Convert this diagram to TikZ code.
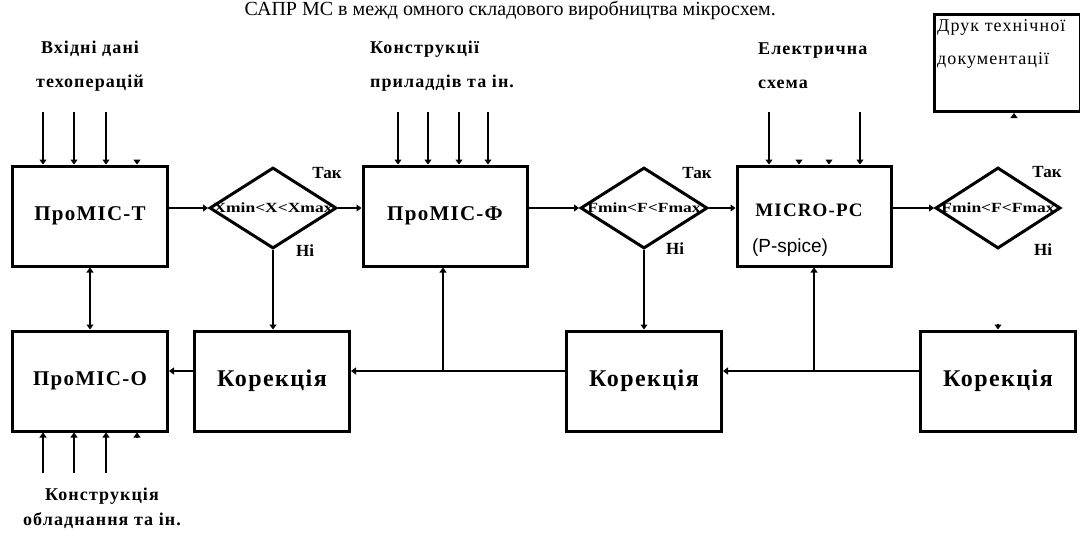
\documentclass[tikz,border=0pt]{standalone}
\usepackage{fontspec}
\setmainfont{Liberation Serif}
\newfontfamily\arialfont{Liberation Sans}
\newfontfamily\wideserif[LetterSpace=6]{Liberation Serif}
\usetikzlibrary{positioning,arrows.meta,shapes.geometric}
\tikzset{
  box/.style={draw=black, line width=3pt, minimum width=155pt, minimum height=100pt, inner sep=0pt, font=\fontsize{21}{24}\wideserif\bfseries},
  korbox/.style={box, font=\fontsize{24}{26}\wideserif\bfseries},
  cond/.style={draw=black, line width=3pt, diamond, minimum width=127pt, minimum height=81pt, inner sep=0pt},
  condtext/.style={font=\fontsize{14}{16}\selectfont\bfseries, inner sep=0pt},
  flow/.style={-{Triangle[length=5pt,width=7pt]}, line width=1.1pt},
  both/.style={{Triangle[length=5pt,width=7pt]}-{Triangle[length=5pt,width=7pt]}, line width=1.1pt},
  lbl/.style={font=\fontsize{18}{34}\wideserif\bfseries, align=center, inner sep=0pt},
  yesno/.style={font=\fontsize{17}{18}\selectfont\bfseries, inner sep=0pt}
}

\begin{document}
\begin{tikzpicture}[x=1pt,y=-1pt]
  \useasboundingbox (0,0) rectangle (1080,536);
  % line of the page text
  \node[anchor=base east, font=\fontsize{20}{22}\selectfont, inner sep=0pt] (pagetext) at (776,15) {САПР МС в межд омного складового виробництва мікросхем.};

  % ---- top row ----
  \node[box] (protT) at (90,216) {ПроМІС-Т};
  \node[cond] (xcheck) at (273,208) {};
  \node[condtext] (xtext) at (xcheck) {\scalebox{1.25}[1]{Xmin<X<Xmax}};
  \node[box, minimum width=164pt] (protF) at (445,216) {ПроМІС-Ф};
  \node[cond] (fcheck) at (644,208) {};
  \node[condtext] (ftext) at (fcheck) {\scalebox{1.25}[1]{Fmin<F<Fmax}};
  \node[box, minimum width=154pt] (micro) at (814,216) {};
  \node[font=\fontsize{19}{22}\wideserif\bfseries, inner sep=0pt] (microt) at (809,210) {MICRO-PC};
  \node[font=\fontsize{19}{22}\arialfont, inner sep=0pt] (spice) at (790,248) {(P-spice)};
  \node[cond, minimum width=125pt] (fcheck2) at (998,208) {};
  \node[condtext] (ftext2) at (fcheck2) {\scalebox{1.25}[1]{Fmin<F<Fmax}};
  \node[draw=black, line width=3pt, minimum width=146pt, minimum height=97pt, anchor=north west, inner sep=0pt] (druk) at (933,13) {};
  \node[anchor=north west, align=left, inner sep=0pt, font=\fontsize{18}{33}\wideserif] (drukt) at (937,19) {Друк технічної\\документації};

  % yes / no marks
  \node[yesno] (yes1) at (327,173) {Так};
  \node[yesno] (no1) at (305,251) {Ні};
  \node[yesno] (yes2) at (697,173) {Так};
  \node[yesno] (no2) at (675,249) {Ні};
  \node[yesno] (yes3) at (1047,172) {Так};
  \node[yesno] (no3) at (1043,250) {Ні};

  % ---- bottom row ----
  \node[box] (protO) at (90,381) {ПроМІС-О};
  \node[korbox] (kor1) at (272,381) {Корекція};
  \node[korbox] (kor2) at (644,381) {Корекція};
  \node[korbox] (kor3) at (998,381) {Корекція};

  % input labels
  \node[lbl] (inT) at (90,66) {Вхідні дані\\техоперацій};
  \node[lbl, align=left, anchor=west] (inF) at (370,66) {Конструкції\\приладдів та ін.};
  \node[lbl, align=left, anchor=west] (inM) at (758,66) {Електрична\\схема};
  \node[lbl, font=\fontsize{18}{25}\wideserif\bfseries] (inO) at (102,508) {Конструкція\\обладнання та ін.};

  % inputs
  \foreach \x in {43,74,106} {
    \coordinate (a\x) at (\x,112);
    \draw[flow] (a\x) -- (a\x |- protT.north);
    \coordinate (b\x) at (\x,473);
    \draw[flow] (b\x) -- (b\x |- protO.south);
  }
  \coordinate (sT) at (137,160);
  \draw[flow] (sT) -- (sT |- protT.north);
  \coordinate (sO) at (137,437);
  \draw[flow] (sO) -- (sO |- protO.south);
  \foreach \x in {398,428,459,488} {
    \coordinate (c\x) at (\x,112);
    \draw[flow] (c\x) -- (c\x |- protF.north);
  }
  \foreach \x in {769,860} {
    \coordinate (m\x) at (\x,112);
    \draw[flow] (m\x) -- (m\x |- micro.north);
  }
  \foreach \x in {799,829} {
    \coordinate (n\x) at (\x,160);
    \draw[flow] (n\x) -- (n\x |- micro.north);
  }

  % flows
  \draw[both] (protT.south) -- (protO.north);
  \draw[flow] (protT.east |- xcheck) -- (xcheck.west);
  \draw[flow] (xcheck.east) -- (xcheck.east -| protF.west);
  \draw[flow] (protF.east |- fcheck) -- (fcheck.west);
  \draw[flow] (fcheck.east) -- (fcheck.east -| micro.west);
  \draw[flow] (micro.east |- fcheck2) -- (fcheck2.west);
  \coordinate (up) at (1014,117);
  \draw[flow] (up) -- (up |- druk.south);
  \draw[flow] (xcheck.south) -- (xcheck.south |- kor1.north);
  \draw[flow] (fcheck.south) -- (fcheck.south |- kor2.north);
  \draw[flow] ([yshift=6pt]kor3.north) -- (kor3.north);

  % feedback line
  \coordinate (fb) at (0,371);
  \draw[flow] (kor1.west |- fb) -- (protO.east |- fb);
  \draw[flow] (kor2.west |- fb) -- (kor1.east |- fb);
  \draw[flow] (kor3.west |- fb) -- (kor2.east |- fb);
  \coordinate (j1) at (443,371);
  \draw[flow] (j1) -- (j1 |- protF.south);
  \coordinate (j2) at (micro.south |- fb);
  \draw[flow] (j2) -- (micro.south);
\end{tikzpicture}
\end{document}
